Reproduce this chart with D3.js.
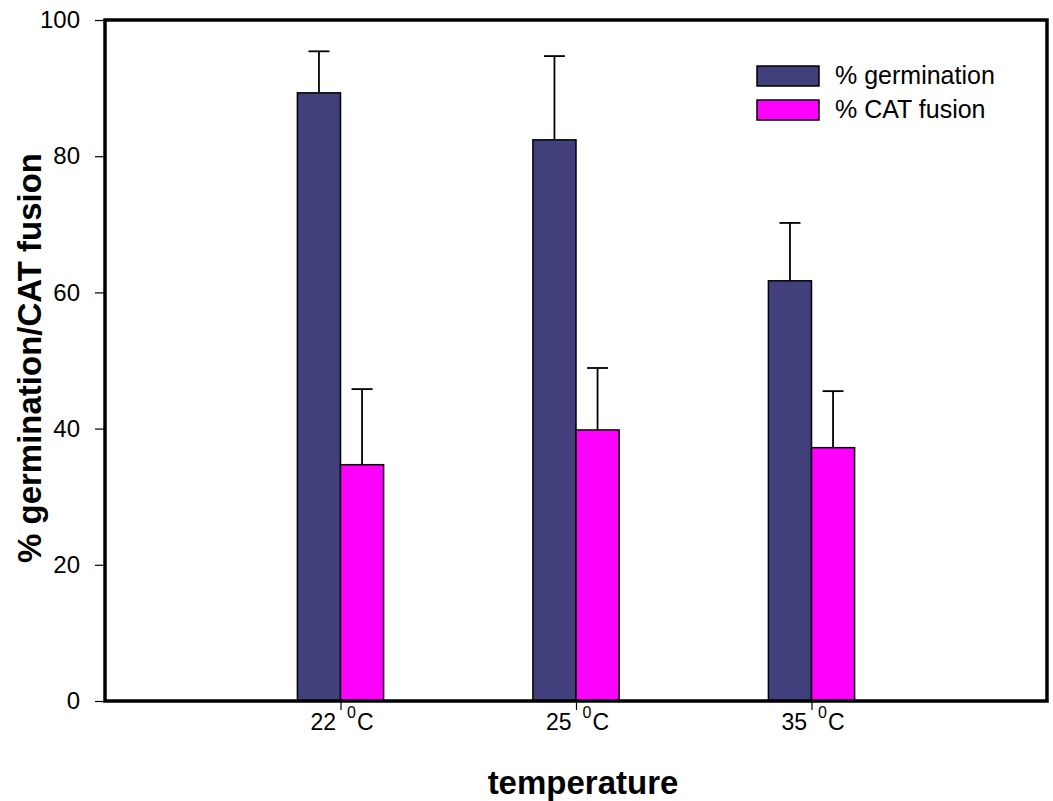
<!DOCTYPE html>
<html>
<head>
<meta charset="utf-8">
<script src="https://cdn.jsdelivr.net/npm/d3@7"></script>
<style>
  body { margin: 0; background: #fff; }
  svg text { font-family: "Liberation Sans", Arial, sans-serif; }
</style>
</head>
<body>
<div id="chart"></div>
<script>
(function() {
    const width = 1053;
    const height = 801;
    const margin = { top: 20, right: 6, bottom: 100, left: 105 };

    // données
    const temps = ["22", "25", "35"];
    const germination = [89.3, 82.4, 61.7];
    const germinationErr = [6.1, 12.3, 8.5];
    const catFusion = [34.7, 39.8, 37.2];
    const catFusionErr = [11.1, 9.1, 8.3];
    const seriesNames = ["% germination", "% CAT fusion"];
    const colors = ["#413f7c", "#ff00ff"];
    const yTicks = [0, 20, 40, 60, 80, 100];

    const svg = d3.select("#chart").append("svg")
        .attr("width", width).attr("height", height);

    const x = d3.scalePoint().domain(temps)
        .range([margin.left, width - margin.right]).padding(1);
    const y = d3.scaleLinear().domain([0, 100])
        .range([height - margin.bottom, margin.top]);

    const barW = x.step() * 0.183;

    const series = [
        { name: seriesNames[0], vals: germination, errs: germinationErr, color: colors[0], off: -1 },
        { name: seriesNames[1], vals: catFusion, errs: catFusionErr, color: colors[1], off: 0 }
    ];

    // barres d'erreur (sous les barres)
    series.forEach(s => {
        const g = svg.append("g");
        temps.forEach((t, i) => {
            const cx = x(t) + s.off * barW + barW / 2;
            g.append("line")
                .attr("x1", cx).attr("x2", cx)
                .attr("y1", y(s.vals[i])).attr("y2", y(s.vals[i] + s.errs[i]))
                .attr("stroke", "#000").attr("stroke-width", 1.8);
            g.append("line")
                .attr("x1", cx - 10.5).attr("x2", cx + 10.5)
                .attr("y1", y(s.vals[i] + s.errs[i])).attr("y2", y(s.vals[i] + s.errs[i]))
                .attr("stroke", "#000").attr("stroke-width", 1.8);
        });
    });

    series.forEach(s => {
        svg.append("g").selectAll("rect")
            .data(temps)
            .join("rect")
            .attr("x", (t) => x(t) + s.off * barW)
            .attr("y", (t, i) => y(s.vals[i]))
            .attr("width", barW)
            .attr("height", (t, i) => y(0) - y(s.vals[i]))
            .attr("fill", s.color)
            .attr("stroke", "#000").attr("stroke-width", 1.5);
    });

    // cadre
    svg.append("rect")
        .attr("x", margin.left).attr("y", margin.top)
        .attr("width", width - margin.left - margin.right)
        .attr("height", height - margin.top - margin.bottom)
        .attr("fill", "none").attr("stroke", "#000").attr("stroke-width", 3.5);

    // axe Y
    const yAxis = svg.append("g")
        .attr("transform", `translate(${margin.left - 1},0)`)
        .call(d3.axisLeft(y).tickValues(yTicks).tickSize(9).tickPadding(15));
    yAxis.select(".domain").remove();
    yAxis.selectAll("line").attr("stroke", "#000").attr("stroke-width", 1.2);
    yAxis.selectAll("text").attr("font-size", 24).attr("fill", "#000")
        .attr("font-family", "Liberation Sans, Arial, sans-serif");

    // axe X
    const xAxis = svg.append("g")
        .attr("transform", `translate(0,${height - margin.bottom + 1})`)
        .call(d3.axisBottom(x).tickSize(8).tickFormat(""));
    xAxis.select(".domain").remove();
    xAxis.selectAll("line").attr("stroke", "#000").attr("stroke-width", 1.2);

    const xl = svg.append("g").selectAll("text")
        .data(temps)
        .join("text")
        .attr("x", d => x(d) - 30)
        .attr("y", height - margin.bottom + 29)
        .attr("text-anchor", "start")
        .attr("font-size", 23)
        .attr("fill", "#000");
    xl.append("tspan").text(d => d);
    xl.append("tspan").attr("font-size", 16).attr("dx", 11).attr("dy", -12).text("0");
    xl.append("tspan").attr("dx", 1).attr("dy", 12).text("C");

    // titres
    svg.append("text")
        .attr("x", 583).attr("y", 794)
        .attr("text-anchor", "middle")
        .attr("font-size", 33).attr("font-weight", "bold")
        .text("temperature");

    svg.append("text")
        .attr("transform", `translate(41,358) rotate(-90)`)
        .attr("text-anchor", "middle")
        .attr("font-size", 33).attr("font-weight", "bold")
        .text("% germination/CAT fusion");

    // légende
    const legend = svg.append("g").attr("transform", "translate(757,66)");
    series.forEach((s, i) => {
        legend.append("rect")
            .attr("x", 0).attr("y", i * 34)
            .attr("width", 62).attr("height", 20)
            .attr("fill", s.color)
            .attr("stroke", "#000").attr("stroke-width", 1.5);
        legend.append("text")
            .attr("x", 78).attr("y", i * 34 + 18)
            .attr("font-size", 25).attr("fill", "#000")
            .text(s.name);
    });
})();
</script>
</body>
</html>
